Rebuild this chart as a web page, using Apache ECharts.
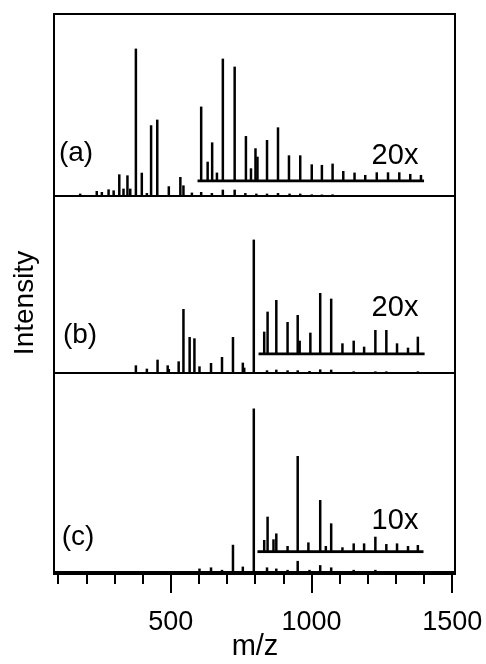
<!DOCTYPE html>
<html>
<head>
<meta charset="utf-8">
<script src="https://cdn.jsdelivr.net/npm/echarts@6/dist/echarts.min.js"></script>
<style>
  html, body { margin: 0; padding: 0; background: #fff; }
  #chart { width: 486px; height: 664px; }
</style>
</head>
<body>
<div id="chart"></div>
<script>
"use strict";

// m/z axis
var xMin = 85, xMax = 1510;
var minorTicks = [100, 200, 300, 400, 500, 600, 700, 800, 900, 1000, 1100, 1200, 1300, 1400, 1500];
var majorTicks = [500, 1000, 1500];

// (a) spectrum, [m/z, intensity] with the biggest peak = 100
var peaksA = [[178,1.6],[237,3.4],[255,2.7],[279,4.5],[297,3.8],[317,14.7],[332,5],[346,14],[356,5],
    [376,100],[397,15.8],[415,2],[430,48],[452,51.8],[493,6.6],[534,12.9],[545,7.2],[575,2.3],[608,2.7],
    [646,2],[685,4.3],[727,4.3],[765,2],[804,1.6],[842,1.6],[881,2],[922,1.6],[960,1.6],[1001,1.1],
    [1037,1],[1075,1.1]];
// (a) 20x inset
var zoomA = [[608,50.5],[631,13.1],[647,26.2],[664,5.7],[685,83],[727,77.6],[767,30.5],[785,8.6],
    [801,22.2],[808,16.5],[842,27.8],[881,36.4],[920,17.4],[960,17.4],[1001,11.3],[1037,10.9],
    [1075,11.8],[1113,6.8],[1153,5.7],[1191,4.1],[1232,5.9],[1272,5.9],[1312,5.9],[1351,4.8],[1389,4.1]];
var zoomRangeA = [595, 1400];

// (b) spectrum
var peaksB = [[376,5.75],[415,3.25],[453,10],[489,5.75],[493,3],[528,8.75],[545,48],[567,27],[584,26],
    [602,5],[643,7.5],[682,12],[721,27],[756,7.75],[761,4],[795,100],[842,2],[875,2.5],[915,2],[951,2],
    [993,1.5],[1031,2.7],[1070,2.5],[1150,1.2],[1227,1.2],[1266,1.2],[1378,1.2]];
// (b) 20x inset
var zoomB = [[832,16.75],[844,31.75],[875,40.5],[915,24],[951,29.25],[958,10],[996,16],[1031,45.75],
    [1070,41.5],[1110,8],[1150,10],[1187,5.5],[1227,18],[1266,18],[1304,8],[1343,4.75],[1378,13]];
var zoomRangeB = [812, 1402];

// (c) spectrum
var peaksC = [[602,1.8],[643,2.5],[682,1],[721,16.4],[756,3],[795,100],[842,2.5],[875,1.8],[915,1],
    [951,6.5],[993,1],[1031,3.9],[1070,2.5],[1150,1],[1227,1]];
// (c) 10x inset
var zoomC = [[832,7.2],[844,21.5],[865,7.6],[875,11.2],[915,3.5],[951,58.7],[989,5.7],[1031,31.7],
    [1051,3.5],[1070,17.4],[1110,2.7],[1150,5.1],[1187,5.1],[1227,9.2],[1266,4.7],[1304,5.1],
    [1343,3.5],[1378,4.1]];
var zoomRangeC = [808, 1398];

var FONT = "'Liberation Sans', Arial, Helvetica, sans-serif";
var L = 54, R = 31;

// grid rects: [top, bottom]
var grids = [
    { top: 14, bottom: 90, show: true },   // frame
    { top: 14, bottom: 90 },               // major ticks
    { top: 48.6, bottom: 468 },            // a
    { top: 33.6, bottom: 483 },            // a inset
    { top: 239.6, bottom: 291 },           // b
    { top: 220.6, bottom: 310 },           // b inset
    { top: 408.5, bottom: 92.5 },          // c
    { top: 388.7, bottom: 112.3 }          // c inset
].map(function (g) {
    return {
        left: L, right: R, top: g.top, bottom: g.bottom,
        show: !!g.show, borderColor: '#000', borderWidth: 2, backgroundColor: 'transparent'
    };
});

var xAxes = [], yAxes = [];
grids.forEach(function (g, i) {
    var xa = {
        type: 'value', gridIndex: i, min: xMin, max: xMax,
        axisLine: { show: false }, axisTick: { show: false }, axisLabel: { show: false },
        splitLine: { show: false }
    };
    var ya = {
        type: 'value', gridIndex: i, min: 0, max: 100,
        axisLine: { show: false }, axisTick: { show: false }, axisLabel: { show: false },
        splitLine: { show: false }
    };
    if (i === 0) {
        xa.axisTick = { show: true, length: 10, customValues: minorTicks,
            lineStyle: { color: '#000', width: 2 } };
    }
    if (i === 1) {
        xa.axisTick = { show: true, length: 19, customValues: majorTicks,
            lineStyle: { color: '#000', width: 2 } };
        xa.axisLabel = { show: true, customValues: majorTicks, margin: 35,
            fontSize: 27, fontFamily: FONT, color: '#000',
            formatter: function (v) { return String(v); } };
    }
    if (i === 2 || i === 4 || i === 6) {
        xa.axisLine = { show: true, lineStyle: { color: '#000', width: 2 } };
    }
    if (i === 2 || i === 4) {
        ya.axisTick = { show: true, inside: true, length: 4, customValues: [0],
            lineStyle: { color: '#000', width: 1.5 } };
    }
    xAxes.push(xa);
    yAxes.push(ya);
});

function bars(data, idx) {
    return {
        type: 'bar', xAxisIndex: idx, yAxisIndex: idx, data: data,
        barWidth: 2.5, itemStyle: { color: '#000' }, silent: true
    };
}
function base(range, idx) {
    return {
        type: 'line', xAxisIndex: idx, yAxisIndex: idx, data: [[range[0], 0], [range[1], 0]],
        symbol: 'none', lineStyle: { color: '#000', width: 3 }, silent: true
    };
}

function label(text, x, y, size, rot) {
    return {
        type: 'text', x: x, y: y, rotation: rot || 0,
        style: { text: text, fontSize: size, fontFamily: FONT, fill: '#000',
            align: 'center', verticalAlign: 'middle' }
    };
}

var option = {
    animation: false,
    backgroundColor: '#fff',
    grid: grids,
    xAxis: xAxes,
    yAxis: yAxes,
    series: [
        bars(peaksA, 2), bars(zoomA, 3), base(zoomRangeA, 3),
        bars(peaksB, 4), bars(zoomB, 5), base(zoomRangeB, 5),
        bars(peaksC, 6), bars(zoomC, 7), base(zoomRangeC, 7)
    ],
    graphic: [
        label('(a)', 76, 153, 28),
        label('(b)', 80, 335, 28),
        label('(c)', 78, 537, 28),
        label('20x', 395, 156, 29),
        label('20x', 395, 308, 29),
        label('10x', 395, 521, 29),
        label('Intensity', 25, 303, 28, Math.PI / 2),
        label('m/z', 255, 647, 29)
    ]
};

var chart = echarts.init(document.getElementById('chart'));
chart.setOption(option);
</script>
</body>
</html>
